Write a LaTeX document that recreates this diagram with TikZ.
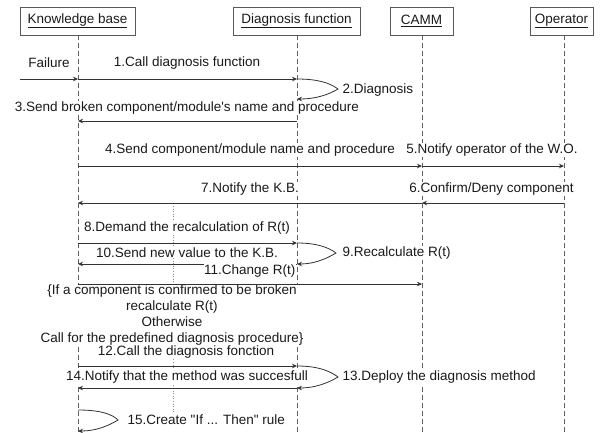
\documentclass[tikz,border=0pt]{standalone}
\usepackage{fontspec}
\setmainfont{Liberation Sans}[Ligatures=TeXOff]
\usetikzlibrary{arrows.meta}
\definecolor{linec}{HTML}{333333}
\definecolor{txtc}{HTML}{1A1A1A}
\definecolor{lifec}{HTML}{606060}
\newcommand\fsz{\fontsize{13.5}{16.3}\selectfont}
\tikzset{
  objbox/.style={draw=black!65, line width=0.9pt, minimum height=28pt, inner sep=2pt, font=\fsz, text=txtc},
  lifeline/.style={draw=lifec, line width=0.8pt, dash pattern=on 5pt off 3pt},
  msg/.style={draw=linec, line width=0.8pt, -{Stealth[length=5pt,width=4.5pt]}},
  lbl/.style={font=\fsz, text=txtc, inner sep=0.5pt, fill=white},
  guide/.style={draw=black!45, line width=0.6pt, dotted}
}
\begin{document}
\begin{tikzpicture}[x=1pt,y=-1pt]
\useasboundingbox (0,0) rectangle (603,432);
% objects
\node[objbox, minimum width=115pt] (kb) at (77.5,21) {\underline{Knowledge base}};
\node[objbox, minimum width=127pt] (df) at (296.5,21) {\underline{Diagnosis function}};
\node[objbox, minimum width=63pt] (camm) at (421.5,21) {\underline{CAMM}};
\node[objbox, minimum width=63pt] (op) at (561.5,21) {\underline{Operator}};
% lifeline ends
\coordinate (kbE) at (78,432);
\coordinate (dfE) at (297,432);
\coordinate (caE) at (422,432);
\coordinate (opE) at (564,432);
\draw[lifeline] (kb.south -| kbE) -- (kbE);
\draw[lifeline] (df.south -| dfE) -- (dfE);
\draw[lifeline] (camm.south -| caE) -- (caE);
\draw[lifeline] (op.south -| opE) -- (opE);
% dotted guide
\coordinate (g1) at (173,206);
\coordinate (g2) at (173,413);
\draw[guide] (g1) -- (g2);
% message points
\coordinate (fs) at (20,79);
\coordinate (kb1) at (78,79);   \coordinate (df1) at (297,79);
\coordinate (df2) at (297,99);  \coordinate (t2) at (338,89);
\coordinate (df3) at (297,121); \coordinate (kb3) at (78,121);
\coordinate (kb4) at (78,166);  \coordinate (ca4) at (422,166); \coordinate (op5) at (564,166);
\coordinate (op6) at (564,203); \coordinate (ca6) at (422,203); \coordinate (kb7) at (78,203);
\coordinate (kb8) at (78,243);  \coordinate (df8) at (297,243);
\coordinate (t9) at (336,253);  \coordinate (df9) at (297,264);
\coordinate (kb10) at (78,264);
\coordinate (kbc) at (78,284);  \coordinate (cac) at (422,284);
\coordinate (kb12) at (78,366); \coordinate (df12) at (297,366);
\coordinate (t13) at (338,377); \coordinate (df13) at (297,388);
\coordinate (kb14) at (78,388);
\coordinate (kb15) at (78,410); \coordinate (t15) at (118,420); \coordinate (kb15b) at (78,431);
% labels
\node[lbl] (lf) at (49,63) {Failure};
\node[lbl] (l1) at (187,63) {1.Call diagnosis function};
\node[lbl, anchor=west] (l2) at (342,90) {2.Diagnosis};
\node[lbl] (l3) at (187,108) {3.Send broken component/module's name and procedure};
\node[lbl] (l4) at (250,150) {4.Send component/module name and procedure};
\node[lbl] (l5) at (492,150) {5.Notify operator of the W.O.};
\node[lbl] (l6) at (491.5,189) {6.Confirm/Deny component};
\node[lbl] (l7) at (250,189) {7.Notify the K.B.};
\node[lbl] (l8) at (187,228) {8.Demand the recalculation of R(t)};
\node[lbl, anchor=west] (l9) at (342,253) {9.Recalculate R(t)};
\node[lbl] (l10) at (187,253) {10.Send new value to the K.B.};
\node[lbl, align=center, inner sep=0pt] (lc) at (172,315) {\{If a component is confirmed to be broken\\recalculate R(t)\\Otherwise\\Call for the predefined diagnosis procedure\}};
\node[lbl] (l12) at (186,352) {12.Call the diagnosis fonction};
\node[lbl, anchor=west] (l13) at (342,377) {13.Deploy the diagnosis method};
\node[lbl] (l14) at (187,377) {14.Notify that the method was succesfull};
\node[lbl, anchor=west] (l15) at (127,420) {15.Create "If ... Then" rule};
% messages
\draw[msg] (fs) -- (kb1);
\draw[msg] (kb1) -- (df1);
\draw[msg] (df1) .. controls (318,79) and (330,83) .. (t2) .. controls (328,95) and (315,99) .. (df2);
\draw[msg] (df3) -- (kb3);
\draw[msg] (kb4) -- (ca4);
\draw[msg] (ca4) -- (op5);
\draw[msg] (op6) -- (ca6);
\draw[msg] (ca6) -- (kb7);
\draw[msg] (kb8) -- (df8);
\draw[msg] (df8) .. controls (316,243) and (328,247) .. (t9) .. controls (326,259) and (314,264) .. (df9);
\draw[msg] (df9) -- (kb10);
\draw[msg] (kbc) -- (cac);
\draw[msg] (kb12) -- (df12);
\draw[msg] (df12) .. controls (318,366) and (330,371) .. (t13) .. controls (328,383) and (315,388) .. (df13);
\draw[msg] (df13) -- (kb14);
\draw[msg] (kb15) .. controls (100,410) and (112,414) .. (t15) .. controls (108,426) and (96,431) .. (kb15b);
\node[lbl, anchor=east] (l11) at (296,271) {11.Change R(t)};
\end{tikzpicture}
\end{document}
